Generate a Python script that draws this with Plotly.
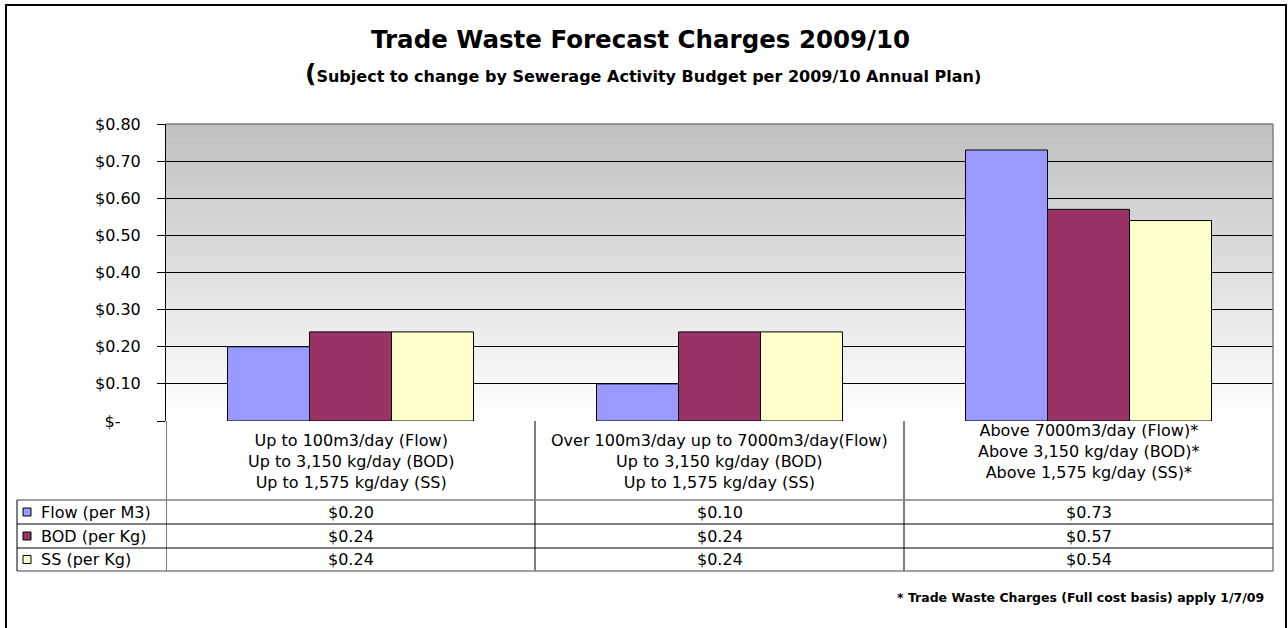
import plotly.graph_objects as go

# ---------------- data ----------------
category_lines = [
    ["Up to 100m3/day (Flow)", "Up to 3,150 kg/day (BOD)", "Up to 1,575 kg/day (SS)"],
    ["Over 100m3/day up to 7000m3/day(Flow)", "Up to 3,150 kg/day (BOD)", "Up to 1,575 kg/day (SS)"],
    ["Above 7000m3/day (Flow)*", "Above 3,150 kg/day (BOD)*", "Above 1,575 kg/day (SS)*"],
]
categories = ["<br>".join(c) for c in category_lines]

series_names = ["Flow (per M3)", "BOD (per Kg)", "SS (per Kg)"]
flow_values = [0.20, 0.10, 0.73]
bod_values = [0.24, 0.24, 0.57]
ss_values = [0.24, 0.24, 0.54]
series_values = [flow_values, bod_values, ss_values]
series_colors = ["#9999FF", "#993366", "#FFFFCC"]

y_tick_values = [0, 0.1, 0.2, 0.3, 0.4, 0.5, 0.6, 0.7, 0.8]
y_tick_labels = ["$-" + "\u00a0" * 4, "$0.10", "$0.20", "$0.30", "$0.40",
                 "$0.50", "$0.60", "$0.70", "$0.80"]

title_text = "Trade Waste Forecast Charges 2009/10"
subtitle_text = "Subject to change by Sewerage Activity Budget per 2009/10 Annual Plan)"
footnote_text = "* Trade Waste Charges (Full cost basis) apply 1/7/09"

# ---------------- geometry helpers ----------------
W, H = 1288, 628
def px(x):
    return x / W
def py(y):
    return 1 - y / H

FONT = "DejaVu Sans"
BODY = 16

PLOT_L, PLOT_R, PLOT_T, PLOT_B = 166, 1273, 124, 421
TABLE_LEFT = 17
ROW_LINES = [500, 524, 548, 571]

fig = go.Figure()
for name, vals, col in zip(series_names, series_values, series_colors):
    fig.add_trace(go.Bar(
        x=categories, y=vals, name=name,
        marker=dict(color=col, line=dict(color="black", width=1)),
        showlegend=False, hoverinfo="skip",
    ))

shapes = []
# gradient background of plot area
n_bands = 80
for i in range(n_bands):
    f0 = i / n_bands
    f1 = (i + 1) / n_bands
    t = (i + 0.5) / n_bands  # 0 at bottom, 1 at top
    g = int(round(255 - (255 - 192) * t))
    shapes.append(dict(type="rect", xref="x domain", yref="y domain",
                       x0=0, x1=1, y0=f0, y1=f1 + 0.002,
                       fillcolor=f"rgb({g},{g},{g})", line=dict(width=0),
                       layer="below"))
# top border of plot
shapes.append(dict(type="line", xref="x domain", yref="y domain", x0=0, x1=1, y0=1, y1=1,
                   line=dict(color="#808080", width=1.5)))
# right border of plot + table
shapes.append(dict(type="line", xref="paper", yref="paper",
                   x0=px(PLOT_R), x1=px(PLOT_R), y0=py(PLOT_T), y1=py(ROW_LINES[-1]),
                   line=dict(color="#808080", width=1.5)))
# table vertical lines at category boundaries
for b in [-0.5, 0.5, 1.5]:
    shapes.append(dict(type="line", xref="x", yref="paper", x0=b, x1=b,
                       y0=py(PLOT_B), y1=py(ROW_LINES[-1]),
                       line=dict(color="black", width=1)))
# table horizontal lines
for j, yl in enumerate(ROW_LINES):
    gray = j in (0, len(ROW_LINES) - 1)
    shapes.append(dict(type="line", xref="paper", yref="paper",
                       x0=px(TABLE_LEFT), x1=px(PLOT_R), y0=py(yl), y1=py(yl),
                       line=dict(color="#808080" if gray else "black",
                                 width=1.5 if gray else 1)))
# table left edge
shapes.append(dict(type="line", xref="paper", yref="paper",
                   x0=px(TABLE_LEFT), x1=px(TABLE_LEFT), y0=py(ROW_LINES[0]), y1=py(ROW_LINES[-1]),
                   line=dict(color="black", width=1)))
# legend keys
row_centers = [(ROW_LINES[k] + ROW_LINES[k + 1]) / 2 for k in range(3)]
for col, rc in zip(series_colors, row_centers):
    shapes.append(dict(type="rect", xref="paper", yref="paper",
                       x0=px(23), x1=px(31), y0=py(rc + 4), y1=py(rc - 4),
                       fillcolor=col, line=dict(color="black", width=1)))
# outer chart border
shapes.append(dict(type="rect", xref="paper", yref="paper",
                   x0=px(6), x1=px(1286), y0=py(640), y1=py(5),
                   line=dict(color="black", width=2), fillcolor="rgba(0,0,0,0)"))

annotations = []
annotations.append(dict(text="<b>" + title_text + "</b>", xref="paper", yref="paper",
                        x=0.497, y=py(39), xanchor="center", yanchor="middle", showarrow=False,
                        font=dict(family=FONT, size=24.5, color="black")))
annotations.append(dict(text="<b><span style='font-size:25px'>(</span>" + subtitle_text + "</b>",
                        xref="paper", yref="paper", x=0.499, y=py(74),
                        xanchor="center", yanchor="middle", showarrow=False,
                        font=dict(family=FONT, size=16, color="black")))
annotations.append(dict(text="<b>" + footnote_text + "</b>", xref="paper", yref="paper",
                        x=px(1266), y=py(597), xanchor="right", yanchor="middle", showarrow=False,
                        font=dict(family=FONT, size=12.5, color="black")))
# category labels (table header row)
cat_centers_y = [462, 462, 452]
for cat, cy in zip(categories, cat_centers_y):
    annotations.append(dict(text=cat, xref="x", yref="paper", x=cat, y=py(cy),
                            xanchor="center", yanchor="middle", showarrow=False,
                            font=dict(family=FONT, size=BODY, color="black")))
# table values and legend labels
for name, vals, rc in zip(series_names, series_values, row_centers):
    annotations.append(dict(text=name, xref="paper", yref="paper", x=px(39), y=py(rc),
                            xanchor="left", yanchor="middle", showarrow=False,
                            font=dict(family=FONT, size=BODY, color="black")))
    for cat, v in zip(categories, vals):
        annotations.append(dict(text=f"${v:.2f}", xref="x", yref="paper", x=cat, y=py(rc),
                                xanchor="center", yanchor="middle", showarrow=False,
                                font=dict(family=FONT, size=BODY, color="black")))

fig.update_layout(
    width=W, height=H, autosize=False,
    margin=dict(l=0, r=0, t=0, b=0, pad=0),
    paper_bgcolor="white", plot_bgcolor="white",
    barmode="group", bargap=1/3, bargroupgap=0,
    font=dict(family=FONT, size=BODY, color="black"),
    xaxis=dict(domain=[px(PLOT_L), px(PLOT_R)], type="category", range=[-0.5, 2.5],
               showticklabels=False, showgrid=False, zeroline=False, showline=False,
               ticks="", automargin=False, fixedrange=True),
    yaxis=dict(domain=[py(PLOT_B), py(PLOT_T)], range=[0, 0.8],
               tickmode="array", tickvals=y_tick_values, ticktext=y_tick_labels,
               showgrid=True, gridcolor="black", gridwidth=1,
               zeroline=False, showline=True, linecolor="black", linewidth=1,
               ticks="outside", ticklen=8, tickcolor="black", tickwidth=1,
               ticklabelstandoff=13, automargin=False, fixedrange=True,
               tickfont=dict(family=FONT, size=BODY, color="black")),
    shapes=shapes, annotations=annotations,
)

fig.write_html("out.html", config={"displayModeBar": False},
               post_script="document.body.style.margin='0';")
